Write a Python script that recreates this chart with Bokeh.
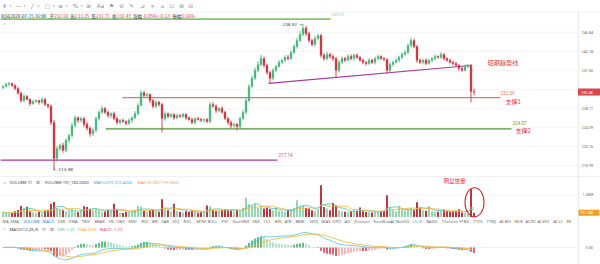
import math
import pandas as pd
from bokeh.plotting import figure
from bokeh.models import Range1d, LinearScale
from bokeh.core.properties import value
from bokeh.embed import file_html
from bokeh.resources import INLINE

# ---------------- data ----------------
closes = [
    233.8, 234.3, 234.5, 234.0, 233.3, 232.2, 230.5, 231.5, 230.8, 229.8,
    230.3, 230.5, 230.1, 230.8, 229.6, 229.2, 225.5, 217.5, 219.7, 220.4,
    219.3, 221.5, 222.6, 224.8, 226.6, 226.0, 226.4, 225.1, 224.2, 223.0,
    223.7, 226.4, 227.8, 228.7, 227.8, 227.1, 227.5, 226.4, 225.5, 226.0,
    225.7, 225.3, 226.0, 226.6, 227.5, 229.4, 232.3, 231.7, 231.9, 230.5,
    229.2, 230.1, 229.6, 226.4, 227.5, 226.9, 227.3, 226.6, 227.1, 226.9,
    227.3, 226.6, 226.2, 225.5, 226.4, 226.2, 226.0, 226.2, 225.7, 229.6,
    229.2, 228.2, 228.7, 227.8, 226.4, 225.5, 224.8, 225.1, 224.6, 226.4,
    227.8, 230.5, 233.8, 235.7, 237.6, 239.0, 240.4, 238.8, 237.1, 235.7,
    237.6, 238.5, 239.5, 240.0, 240.7, 240.4, 241.9, 243.3, 244.8, 246.3,
    247.8, 246.5, 244.8, 243.8, 245.3, 246.0, 241.2, 240.4, 241.4, 240.9,
    240.4, 237.6, 239.5, 240.4, 240.0, 240.9, 240.4, 241.2, 240.7, 240.0,
    239.5, 239.2, 240.0, 239.5, 240.4, 240.9, 240.4, 240.2, 237.6, 239.0,
    239.5, 240.0, 240.7, 241.4, 241.9, 243.6, 244.8, 243.3, 240.0, 239.5,
    240.0, 239.2, 240.0, 240.4, 240.9, 240.7, 241.4, 240.4, 240.0, 239.5,
    239.2, 238.8, 238.0, 237.6, 238.5, 238.8, 232.6, 232.48,
]
first_open = 233.5
wick_up = [
    .3, .4, .3, .2, .3, .4, .3, .5, .3, .2,
    .4, .3, .2, .5, .3, .2, .4, .6, .5, .4,
    .6, .5, .4, .7, .5, .3, .4, .3, .5, .4,
    .6, .5, .4, .6, .3, .4, .3, .5, .4, .3,
    .4, .3, .5, .3, .6, .5, .6, .5, .4, .3,
    .4, .5, .3, .4, .5, .3, .4, .3, .4, .3,
    .4, .3, .2, .4, .3, .4, .3, .2, .4, .6,
    .5, .4, .3, .5, .4, .3, .4, .3, .3, .4,
    .5, .6, .5, .6, .7, .8, .9, .5, .4, .3,
    .5, .4, .6, .4, .5, .6, .5, .6, .7, .8,
    1.12, .6, .5, .4, .6, .5, .4, .5, .6, .4,
    .5, .4, .6, .5, .4, .6, .5, .4, .5, .3,
    .4, .3, .5, .4, .5, .4, .3, .4, .3, .5,
    .4, .5, .4, .5, .6, .5, .7, .5, .4, .5,
    .4, .5, .3, .4, .5, .3, .6, .4, .3, .4,
    .3, .4, .3, .4, .5, .3, .3, .65,
]
wick_dn = [
    .3, .2, .4, .3, .4, .3, .5, .4, .3, .5,
    .3, .4, .5, .3, .4, .5, .6, 2.52, .7, .6,
    .5, .4, .6, .5, .4, .6, .5, .6, .5, .7,
    .5, .4, .5, .3, .4, .5, .6, .4, .5, .4,
    .3, .5, .4, .6, .3, .4, .3, .4, .5, .6,
    .5, .4, .5, 3.1, .5, .4, .3, .5, .4, .3,
    .4, .5, .3, .4, .5, .3, .4, .5, .3, .4,
    .3, .5, .4, .3, .4, .5, .6, .5, .9, .5,
    .4, .5, .4, .3, .4, .5, .4, .6, .5, 1.2,
    .5, .4, .3, .4, .5, .4, .3, .4, .5, .4,
    .5, .6, .5, .4, .5, .4, .6, .5, .4, .5,
    .6, 1.7, .5, .4, .5, .3, .4, .5, .4, .3,
    .4, .5, .3, .4, .5, .4, .3, .4, .8, .5,
    .4, .3, .5, .4, .3, .4, .5, .4, .6, .4,
    .5, .4, .3, .5, .4, .3, .4, .5, .4, .3,
    .4, .3, .5, .4, .3, .4, 2.5, .77,
]
volumes_k = [
    220, 180, 150, 200, 260, 320, 490, 420, 460, 250,
    200, 180, 230, 170, 280, 330, 600, 680, 420, 350,
    300, 260, 280, 330, 250, 210, 300, 480, 450, 360,
    280, 350, 300, 220, 250, 310, 280, 600, 320, 200,
    180, 240, 200, 260, 330, 500, 470, 280, 220, 300,
    350, 260, 240, 800, 380, 300, 250, 600, 280, 230,
    200, 260, 220, 300, 240, 190, 210, 230, 520, 480,
    320, 260, 280, 300, 350, 320, 280, 250, 330, 300,
    420, 880, 560, 480, 600, 400, 450, 380, 420, 360,
    300, 430, 280, 260, 240, 300, 350, 420, 750, 480,
    520, 400, 380, 300, 280, 330, 1430, 450, 380, 300,
    630, 520, 300, 260, 240, 220, 260, 300, 280, 430,
    260, 220, 240, 200, 260, 230, 250, 280, 980, 420,
    300, 260, 450, 330, 280, 350, 380, 300, 660, 420,
    300, 280, 480, 260, 220, 240, 260, 300, 280, 220,
    240, 260, 350, 200, 180, 160, 1250, 191.183,
]

price_ticks = [246.84, 242.18, 237.60, 233.11, 228.71, 224.39, 220.16, 215.99]
price_tick_labels = ["246.84", "242.18", "237.60", "", "228.71", "224.39", "220.16", "215.99"]
last_close_label = "232.48"
last_volume_label = "191.18K"
vol_tick, vol_tick_label = 1.0e6, "1.00M"
macd_tick, macd_tick_label = 0.0, "0.00"

peak_high, peak_label = 248.92, "248.92 →"
low_label = "← 214.98"
top_level, top_label = 250.1, "250.07"
support1_level, support1_price, support1_name = 231.2, "232.39", "支撑1"
support2_level, support2_price, support2_name = 224.07, "224.07", "支撑2"
bottom_level, bottom_label = 217.14, "217.14"
trend_x = [88.5, 155.8]
trend_y = [234.5, 238.75]
trend_name = "短期趋势线"
volume_note = "明显放量"

info_pieces = [
    ("时间2020-07-15 16:00", "k"), ("开", "k"), ("232.60", "r"), ("高", "k"), ("233.25", "r"),
    ("低", "k"), ("231.71", "r"), ("收", "k"), ("232.48", "r"), ("涨幅", "k"),
    ("-0.05%(-0.12)", "r"), ("振幅", "k"), ("0.66%", "r"),
]
vol_header = [("VOLUME:191,183.0000", "#444444"), ("MA(5):319,372.4000", "#3bb3a6"), ("MA(10):263,179.9000", "#f0a417")]
macd_header = [("DIF:-1.31", "#3bb3a6"), ("DEA:-0.69", "#f0a417"), ("MACD:-1.23", "#e0506a")]
tab_names = ["MA", "EMA", "VOLUME", "MACD", "DMI", "DMA", "TRIX", "BRAR", "VR", "OBV", "EMV", "RSI", "WR",
             "SAR", "KDJ", "ROC", "MTM", "BOLL", "PSY", "StochRSI", "SMI", "CCI", "MFI", "ATR", "BBW",
             "SKDJ", "BIAS", "DPO", "AO", "Position", "Fundflow", "AI-NetVOL", "LSUR", "BASIS", "TVolume",
             "FTBS", "TTDI", "TTMJ", "AI-BSI", "MLR", "AI-PD", "AI-FDI", "AI-LI", "FR"]
toolbar_icons = ["✛", "▾", "—", "▾", "╱", "▾", "□", "▾", "≡", "▾", "%", "▾", "⊞", "Aa", "⚑", "⊘", "✎",
                 "⊿", "∞", "⌂", "⊡", "⊠", "⊟"]

# ---------------- layout (pixels) ----------------
W, H = 600, 264
AXIS_PX = 578
X0, X1 = -2.5 / 3, (W - 2.5) / 3
P_TOP, P_BOT = 254.80, 195.61
VOL_BASE_PX, VOL_PX_PER_M = 216.5, 22.2
MACD_ZERO_PX, MACD_TOP_PX = 247.0, 232.0
info_x = [0.5, 49, 53.7, 69.8, 74.6, 90.7, 95.5, 111.6, 116.4, 132.5, 142.0, 171.9, 181.4]
tab_x = [2, 10, 23, 42, 57, 68, 81, 94, 108, 116, 128, 141, 151, 161, 172, 183, 196, 207, 221, 232,
         252, 263, 274, 284, 295, 309, 321, 332, 344, 354, 373, 390, 412, 426, 441, 459, 473, 486,
         499, 514, 525, 537, 553, 566]
icon_x = [4, 10, 18, 24, 32, 38, 47, 53, 60, 66, 75, 81, 88, 100, 111, 121, 131, 142, 152, 162, 171, 181, 190]

UP, DOWN = "#4db882", "#cc3a44"
VUP, VDOWN = "#8dd3ad", "#b32a31"
RED = "#e0393f"
CJK = "Noto Sans CJK SC"

# ---------------- derived series ----------------
n = len(closes)
idx = list(range(n))
opens = [first_open] + closes[:-1]
tops = [max(o, c) for o, c in zip(opens, closes)]
bots = [min(o, c) for o, c in zip(opens, closes)]
highs = [t + u for t, u in zip(tops, wick_up)]
lows = [b - d for b, d in zip(bots, wick_dn)]
is_up = [c >= o for o, c in zip(opens, closes)]
ccol = [UP if u else DOWN for u in is_up]
vcol = [VUP if u else VDOWN for u in is_up]
vols = [v * 1000 for v in volumes_k]
vs = pd.Series(vols)
ma5 = vs.rolling(5, min_periods=1).mean().tolist()
ma10 = vs.rolling(10, min_periods=1).mean().tolist()


def ema(vals, span):
    k = 2.0 / (span + 1)
    out = [vals[0]]
    for v in vals[1:]:
        out.append(out[-1] + k * (v - out[-1]))
    return out


e12, e26 = ema(closes, 12), ema(closes, 26)
dif = [a - b for a, b in zip(e12, e26)]
dea = ema(dif, 9)
hist = [2 * (a - b) for a, b in zip(dif, dea)]
hcol = []
for i, h in enumerate(hist):
    prev = hist[i - 1] if i else 0
    if h >= 0:
        hcol.append("#3fae6a" if h >= prev else "#a6dcb9")
    else:
        hcol.append("#d9434e" if h <= prev else "#f2a7ad")

mmax = max(max(dif), max(dea), max(hist))
mscale = (MACD_ZERO_PX - MACD_TOP_PX) / mmax
M_TOP = MACD_ZERO_PX / mscale
M_BOT = -(H - MACD_ZERO_PX) / mscale
V_TOP = VOL_BASE_PX / VOL_PX_PER_M * 1e6
V_BOT = -(H - VOL_BASE_PX) / VOL_PX_PER_M * 1e6

# ---------------- figure ----------------
p = figure(width=W, height=H, output_backend="svg", toolbar_location=None,
           x_range=Range1d(X0, X1), y_range=Range1d(P_BOT, P_TOP), y_axis_type="log",
           x_axis_location=None, y_axis_location=None, min_border=0,
           outline_line_color=None, background_fill_color="white", border_fill_color="white")
p.grid.visible = False
p.extra_x_ranges = {"sx": Range1d(0, W)}
p.extra_x_scales = {"sx": LinearScale()}
p.extra_y_ranges = {"sy": Range1d(H, 0), "vol": Range1d(V_BOT, V_TOP), "macd": Range1d(M_BOT, M_TOP)}
p.extra_y_scales = {"sy": LinearScale(), "vol": LinearScale(), "macd": LinearScale()}


def txt(x, y, s, color, size, font="Noto Sans", align="left", xr="sx", yr="sy", baseline="middle"):
    p.text(x=[x], y=[y], text=[s], text_color=color, text_font=value(font),
           text_font_size=f"{size}px", text_align=align, text_baseline=baseline,
           x_range_name=xr, y_range_name=yr)


# grid / frame lines
p.segment(x0=[0] * len(price_ticks), x1=[AXIS_PX] * len(price_ticks), y0=price_ticks, y1=price_ticks,
          x_range_name="sx", line_color="#f1f1f1", line_width=0.8)
p.segment(x0=[0], x1=[AXIS_PX], y0=[vol_tick], y1=[vol_tick], x_range_name="sx", y_range_name="vol",
          line_color="#f1f1f1", line_width=0.8)
p.segment(x0=[0], x1=[AXIS_PX], y0=[macd_tick], y1=[macd_tick], x_range_name="sx", y_range_name="macd",
          line_color="#eeeeee", line_width=0.8)
p.segment(x0=[0, 0], x1=[W, W], y0=[11.5, 176], y1=[11.5, 176], x_range_name="sx", y_range_name="sy",
          line_color="#ececec", line_width=0.8)
p.segment(x0=[AXIS_PX], x1=[AXIS_PX], y0=[11.5], y1=[H], x_range_name="sx", y_range_name="sy",
          line_color="#e3e3e3", line_width=0.8)

# annotation lines (price space)
p.segment(x0=[X0], x1=[109.2], y0=[top_level], y1=[top_level], line_color="#86c66f", line_width=1.6)
p.segment(x0=[39.8], x1=[165.8], y0=[support1_level], y1=[support1_level], line_color="#e07a5f", line_width=1.2)
p.segment(x0=[34.2], x1=[169.5], y0=[support2_level], y1=[support2_level], line_color="#4e9a2c", line_width=1.2)
p.segment(x0=[X0], x1=[91.5], y0=[bottom_level], y1=[bottom_level], line_color="#a8389e", line_width=1.2)
p.line(x=trend_x, y=trend_y, line_color="#a8389e", line_width=1.2)

# candles
p.segment(x0=idx, x1=idx, y0=lows, y1=highs, line_color=ccol, line_width=0.9)
p.vbar(x=idx, width=0.68, top=tops, bottom=bots, fill_color=ccol, line_color=ccol, line_width=0.3)

# volume
p.vbar(x=idx, width=0.62, top=vols, bottom=0, y_range_name="vol", fill_color=vcol, line_color=None)
p.line(x=idx, y=ma5, y_range_name="vol", line_color="#4fc3b8", line_width=0.8)
p.line(x=idx, y=ma10, y_range_name="vol", line_color="#f2b632", line_width=0.8)

# macd
p.vbar(x=idx, width=0.55, top=hist, bottom=0, y_range_name="macd", fill_color=hcol, line_color=None)
p.line(x=idx, y=dif, y_range_name="macd", line_color="#4fc8d0", line_width=0.8)
p.line(x=idx, y=dea, y_range_name="macd", line_color="#f2b632", line_width=0.8)

# right axis labels
for t, lab in zip(price_ticks, price_tick_labels):
    if lab:
        txt(581, t, lab, "#666666", 3.8, font="Roboto", yr="default")
p.rect(x=[589], y=[closes[-1]], width=[23], height=[7], height_units="screen", x_range_name="sx",
       fill_color="#d6474c", line_color=None)
txt(580.5, closes[-1], last_close_label, "white", 3.8, font="Roboto", yr="default")
txt(582, vol_tick, vol_tick_label, "#666666", 3.8, font="Roboto", yr="vol")
p.rect(x=[588.5], y=[vols[-1]], width=[21], height=[6], height_units="screen", x_range_name="sx",
       y_range_name="vol", fill_color="#f0a020", line_color=None)
txt(579.5, vols[-1], last_volume_label, "white", 3.6, font="Roboto", yr="vol")
txt(585, macd_tick, macd_tick_label, "#666666", 3.8, font="Roboto", yr="macd")

# toolbar and info line
for i, (s, x) in enumerate(zip(toolbar_icons, icon_x)):
    col = "#2f7de1" if i == 0 else "#8a8a8a"
    size = 3.2 if s == "▾" else 5.6
    txt(x, 5.5, s, col, size, font="DejaVu Sans", align="center")
for (s, kind), x in zip(info_pieces, info_x):
    txt(x, 15.5, s, "#333333" if kind == "k" else RED, 4.6, font=CJK)
txt(4, 23.5, "∨", "#999999", 3.6, font="DejaVu Sans", align="center")

# price annotations
txt(331, 13.5, top_label, "#9ccf8a", 4.2, font="Roboto")
txt(301.5, 23.5, peak_label, "#444444", 4.2, font="DejaVu Sans", align="right")
txt(53, 168.5, low_label, "#444444", 4.2, font="DejaVu Sans")
txt(278, 154.5, bottom_label, "#c0509e", 4.6, font="Roboto")
txt(487, 62, trend_name, RED, 6.2, font=CJK)
txt(500, 92, support1_price, "#e8765a", 4.6, font="Roboto")
txt(505, 100.5, support1_name, RED, 6.0, font=CJK)
txt(512, 122, support2_price, "#5aa02c", 4.6, font="Roboto")
txt(515, 129.5, support2_name, RED, 6.0, font=CJK)

# volume header and note
txt(4, 182, "∨", "#999999", 3.6, font="DejaVu Sans", align="center")
txt(9, 182, "VOLUME", "#444444", 4.2)
txt(29.5, 182, "⊡", "#888888", 4.6, font="DejaVu Sans", align="center")
txt(37.5, 182, "⊠", "#888888", 4.6, font="DejaVu Sans", align="center")
for (s, c), x in zip(vol_header, [44, 93, 137]):
    txt(x, 182, s, c, 4.2)
txt(443, 180, volume_note, RED, 5.5, font=CJK)
p.ellipse(x=[474], y=[201.7], width=[19], height=[29], width_units="screen", height_units="screen",
          x_range_name="sx", y_range_name="sy", fill_color=None, line_color="#d42a2a", line_width=1.1)

# tab row
for s, x in zip(tab_names, tab_x):
    col = "#2f7de1" if s in ("VOLUME", "MACD") else ("#7aa7e0" if s == "LSUR" else "#6a6a6a")
    txt(x, 221, s, col, 4.0)

# macd header
txt(4, 228.5, "∨", "#999999", 3.6, font="DejaVu Sans", align="center")
txt(9, 228.5, "MACD(12,26,9)", "#444444", 4.2)
txt(43.5, 228.5, "⊡", "#888888", 4.6, font="DejaVu Sans", align="center")
txt(51.5, 228.5, "⊠", "#888888", 4.6, font="DejaVu Sans", align="center")
for (s, c), x in zip(macd_header, [57, 77, 99]):
    txt(x, 228.5, s, c, 4.2)

open("out.html", "w").write(file_html(p, INLINE))
